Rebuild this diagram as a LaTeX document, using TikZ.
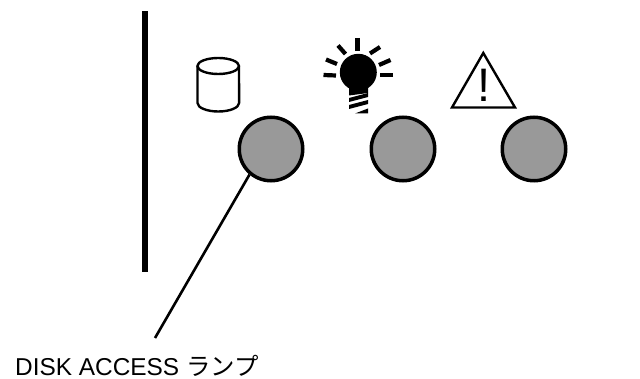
\documentclass[tikz,border=0pt]{standalone}
\usepackage{fontspec}
\setmainfont{Liberation Sans}
\newfontfamily\cjk{Noto Sans CJK JP}
\definecolor{lampgray}{HTML}{999999}
\tikzset{
  lamp/.style={circle,draw=black,line width=3.5pt,fill=lampgray,minimum size=63.5pt,inner sep=0pt},
  iconline/.style={draw=black,line width=2.4pt,line join=round},
  ray/.style={line width=4.2pt},
  thread/.style={fill=black,draw=none},
  leader/.style={draw=black,line width=2.6pt}
}
\begin{document}
\begin{tikzpicture}[x=1pt,y=-1pt]
\useasboundingbox (0,0) rectangle (640,379);
\fill[black] (142,11) rectangle (148,272);
% cylinder
\draw[iconline,fill=white] (197.5,66) -- (197.5,103) arc[start angle=180,end angle=0,x radius=20.8,y radius=8.5] -- (239,66);
\draw[iconline] (218.2,66) ellipse[x radius=20.8,y radius=8];
% lamps
\node[lamp] (lampA) at (271,149) {};
\node[lamp] (lampB) at (403,149) {};
\node[lamp] (lampC) at (534,149) {};
% bulb
\fill[black] (358.3,72.3) circle[radius=18.5];
\fill[black] (349,80) -- (368,80) -- (368,93) -- (349,95.5) -- cycle;
\fill[thread] (349,98) -- (368,93) -- (368,97) -- (349,102) -- cycle;
\fill[thread] (349,105) -- (368,100) -- (368,104) -- (349,109) -- cycle;
\fill[thread] (355,113.5) -- (368,108.5) -- (368,113.5) -- cycle;
\draw[ray] (357.5,38) -- (357.5,51);
\draw[ray] (338,45.5) -- (345.5,54);
\draw[ray] (326,59.5) -- (337,64);
\draw[ray] (323.5,75) -- (336,75.5);
\draw[ray] (380,47) -- (370,53.5);
\draw[ray] (390.5,60) -- (379,65);
\draw[ray] (393,75) -- (380,75);
% warning
\draw[iconline,line join=miter] (483.3,53) -- (515,107.5) -- (452,107.5) -- cycle;
\node[inner sep=0pt,font=\fontsize{47}{47}\selectfont] (bang) at (484,85.5) {!};
% leader
\coordinate (leaderEnd) at (155,338);
\draw[leader] (lampA.230) -- (leaderEnd);
\node[anchor=base west,inner sep=0pt,font=\fontsize{24.4}{24.4}\selectfont] (label) at (15,375.7) {DISK ACCESS {\cjk ランプ}};
\end{tikzpicture}
\end{document}
